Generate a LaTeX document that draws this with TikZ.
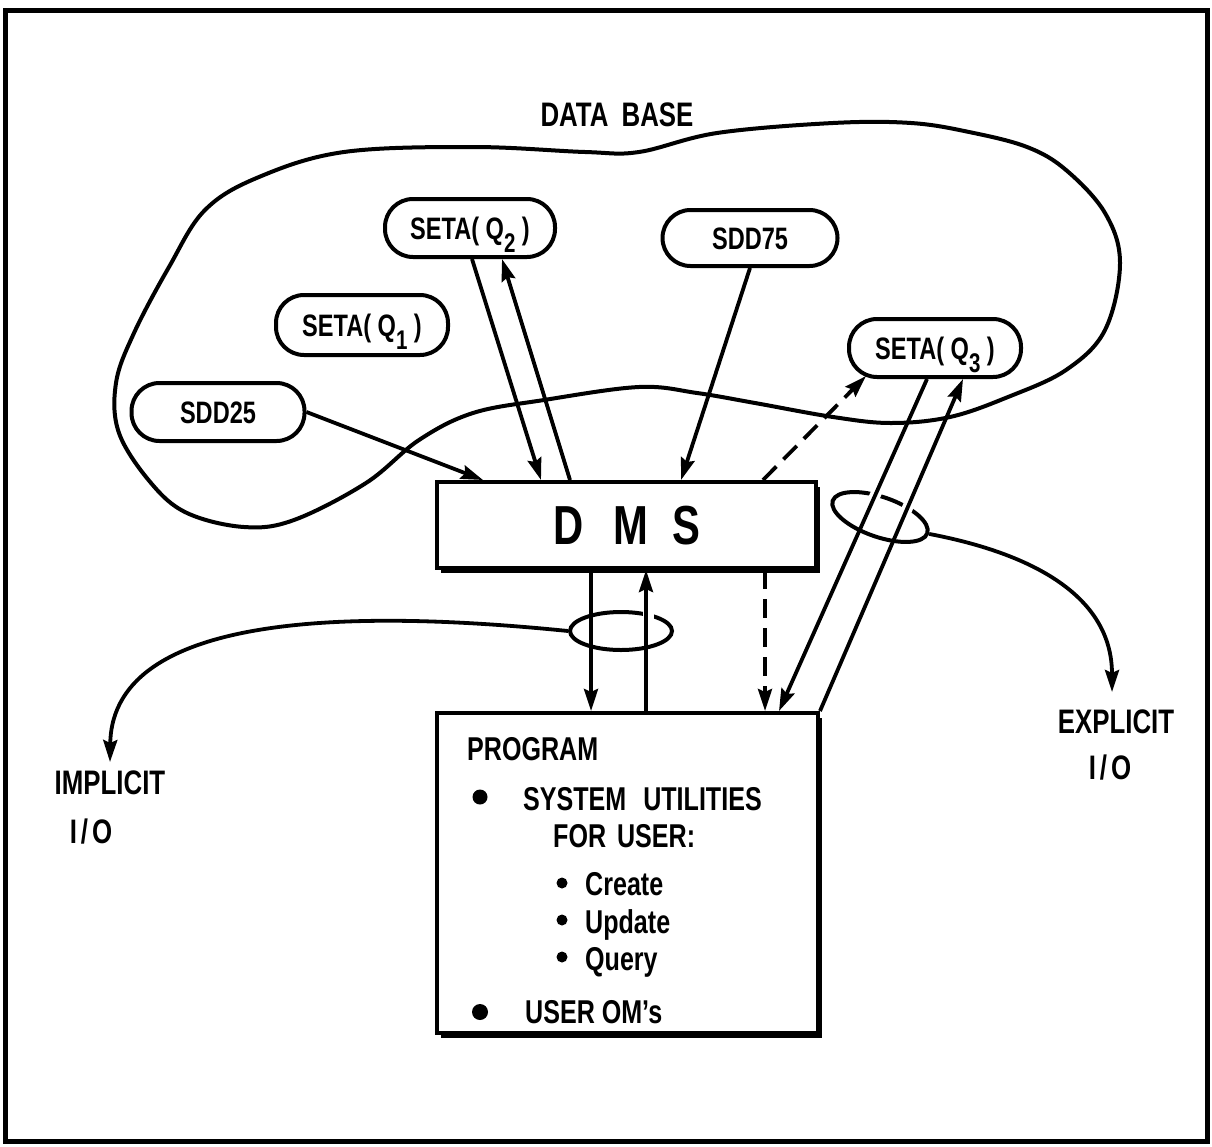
\documentclass[tikz,border=0pt]{standalone}
\usepackage{fontspec}
\setmainfont{Liberation Sans}[FakeStretch=0.76, UprightFont=*-Bold]
\usetikzlibrary{arrows.meta,calc,shapes.geometric,shadows}
\newcommand\lowsub[1]{\raisebox{-13pt}{\fontsize{27}{27}\selectfont #1}}
\newcommand\iotext{I\hspace{4pt}/\hspace{4pt}O}
\begin{document}
\begin{tikzpicture}[x=1pt,y=-1pt,
  blob/.style={draw, line width=4pt, rounded corners=28pt, inner sep=0pt, minimum height=58pt, text height=22pt, text depth=0pt, font=\fontsize{31}{31}\selectfont, fill=white},
  conn/.style={line width=3.8pt, -{Stealth[length=22pt,width=14pt,inset=3pt]}},
  dconn/.style={conn, dash pattern=on 19pt off 10pt},
  lbl/.style={font=\fontsize{34}{34}\selectfont, inner sep=0pt},
  ptxt/.style={font=\fontsize{33}{33}\selectfont, inner sep=0pt, anchor=base west},
  bul/.style={circle, fill, inner sep=0pt},
  gap/.style={white, line width=11pt},
  box/.style={draw, line width=4pt, fill=white, inner sep=0pt, drop shadow={shadow xshift=4pt, shadow yshift=-5pt, fill=black, opacity=1}},
  lasso/.style={ellipse, draw, line width=4pt, inner sep=0pt},
]
\useasboundingbox (0,0) rectangle (1212,1146);
% frame
\draw[line width=5pt] (5,10) rectangle (1207,1141);
% data base cloud
\draw[line width=4pt] plot[smooth cycle, tension=0.6] coordinates {
 (639,152) (717,133) (833,123) (911,123) (969,132) (1027,147) (1066,170)
 (1105,213) (1120,263) (1105,330) (1066,370) (1008,397) (950,417) (891,423) (833,417)
 (755,403) (697,393) (639,387) (544,400) (473,413) (419,440) (366,483) (294,520)
 (244,527) (187,513) (151,483) (119,433) (116,383) (134,333) (169,267) (205,210)
 (259,177) (344,152) (473,147) (585,152)};
\node[lbl] (db) at (617,115) {DATA\hspace{6pt} BASE};
% data base elements
\node[blob, minimum width=170pt] (q2) at (470,228) {SETA( Q\lowsub{2} )};
\node[blob, minimum width=175pt, minimum height=56pt] (s75) at (750,238) {SDD75};
\node[blob, minimum width=172pt, minimum height=60pt] (q1) at (362,325) {SETA( Q\lowsub{1} )};
\node[blob, minimum width=172pt] (q3) at (935,348) {SETA( Q\lowsub{3} )};
\node[blob, minimum width=173pt] (s25) at (218,412) {SDD25};
% DMS
\node[box, minimum width=379pt, minimum height=86pt, text height=38pt, text depth=0pt, font=\fontsize{55}{55}\selectfont] (dms) at (626.5,525) {D\hspace{30pt}M\hspace{24pt}S};
% program
\node[box, minimum width=381pt, minimum height=320pt] (prog) at (627.5,873) {};
\node[ptxt] (p1) at (467,760) {PROGRAM};
\node[bul, minimum size=15pt] (b1) at (480,797) {};
\node[ptxt] (p2) at (523,810) {SYSTEM\hspace{10pt} UTILITIES};
\node[ptxt] (p3) at (553,847) {FOR\hspace{4pt} USER:};
\node[bul, minimum size=11pt] (b2) at (562,883) {};
\node[ptxt] (p4) at (585,895) {Create};
\node[bul, minimum size=11pt] (b3) at (562,920) {};
\node[ptxt] (p5) at (585,933) {Update};
\node[bul, minimum size=11pt] (b4) at (562,957) {};
\node[ptxt] (p6) at (585,970) {Query};
\node[bul, minimum size=16pt] (b5) at (480,1012) {};
\node[ptxt] (p7) at (525,1023) {USER OM{\char"0027}s};
% labels
\node[lbl] (imp) at (110,783) {IMPLICIT};
\node[lbl] (impio) at (91,832) {\iotext};
\node[lbl] (exp) at (1116,722) {EXPLICIT};
\node[lbl] (expio) at (1110,768) {\iotext};
% lassos
\node[lasso, minimum width=102pt, minimum height=38pt] (lel) at (621,631) {};
\node[lasso, minimum width=100pt, minimum height=40pt, rotate=-19] (rel) at (880,517) {};
% coordinates of connector ends
\coordinate (d1) at ($(dms.north west)+(48,0)$);
\coordinate (d2) at ($(dms.north west)+(106,0)$);
\coordinate (d3) at ($(dms.north west)+(135,0)$);
\coordinate (d4) at ($(dms.north west)+(246,0)$);
\coordinate (d5) at ($(dms.north west)+(328,0)$);
\coordinate (d6) at ($(dms.south west)+(156,0)$);
\coordinate (d7) at ($(dms.south west)+(211,0)$);
\coordinate (d8) at ($(dms.south west)+(330,0)$);
\coordinate (g6) at ($(prog.north west)+(156,0)$);
\coordinate (g7) at ($(prog.north west)+(211,0)$);
\coordinate (g8) at ($(prog.north west)+(330,0)$);
\coordinate (g9) at ($(prog.north west)+(344,0)$);
\coordinate (q2a) at ($(q2.south)+(2,0)$);
\coordinate (q2b) at ($(q2.south)+(32,0)$);
\coordinate (q3a) at ($(q3.south west)+(19,-3)$);
\coordinate (q3b) at ($(q3.south)+(-8,0)$);
\coordinate (q3c) at ($(q3.south)+(28,0)$);
\coordinate (impt) at (110,762);
\coordinate (expt) at (1112,692);
% gaps where connectors pass over the lassos
\draw[gap] (648,606) -- (648,624);
\draw[gap] ($(q3b)!0.325!(g9)$) -- ($(q3b)!0.375!(g9)$);
\draw[gap] ($(prog.north east)!0.585!(q3c)$) -- ($(prog.north east)!0.635!(q3c)$);
% connectors
\draw[conn] (s25.east) -- (d1);
\draw[conn] (q2a) -- (d2);
\draw[conn] (d3) -- (q2b);
\draw[conn] (s75.south) -- (d4);
\draw[dconn] (d5) -- (q3a);
\draw[conn] (q3b) -- (g9);
\draw[conn] (prog.north east) -- (q3c);
\draw[conn] (d6) -- (g6);
\draw[conn] (g7) -- (d7);
\draw[dconn] (d8) -- (g8);
\draw[conn] (lel.west) .. controls (380,612) and (112,605) .. (impt);
\draw[conn] (rel.east) .. controls (1040,555) and (1112,600) .. (expt);
\end{tikzpicture}
\end{document}
